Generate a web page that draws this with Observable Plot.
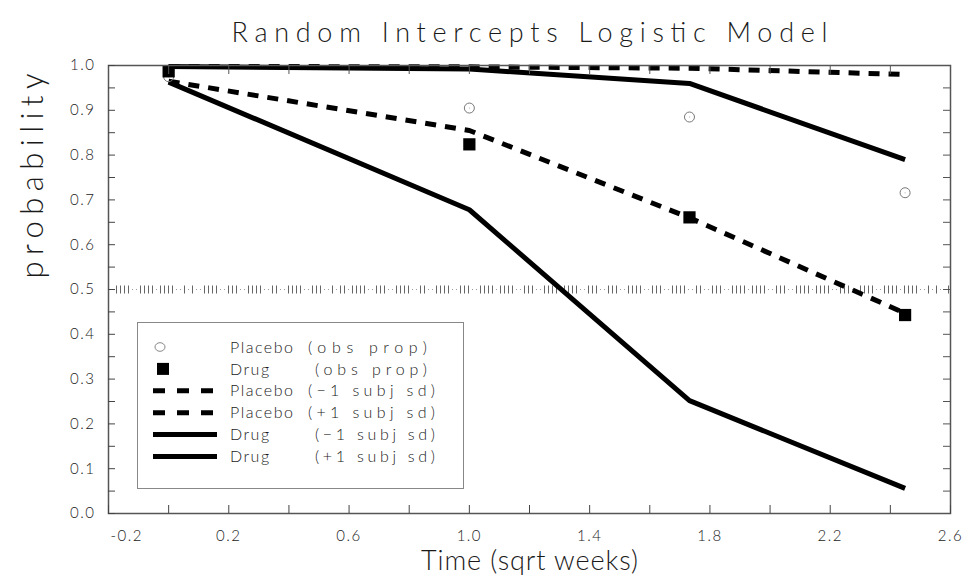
<!DOCTYPE html>
<html><head><meta charset="utf-8">
<script src="https://cdn.jsdelivr.net/npm/d3@7"></script>
<script src="https://cdn.jsdelivr.net/npm/@observablehq/plot@0.6"></script>
<style>
body{margin:0;background:#fff;}
#chart{width:966px;height:584px;}
</style></head><body><div id="chart"></div>
<script>
// ---- data ----
const times = [0, 1, 1.732, 2.449];
const placeboObs = [0.975, 0.905, 0.885, 0.716];
const drugObs = [0.987, 0.824, 0.661, 0.443];
const placeboLow = [0.965, 0.855, 0.660, 0.447];
const placeboHigh = [0.998, 0.997, 0.994, 0.980];
const drugLow = [0.963, 0.678, 0.252, 0.056];
const drugHigh = [0.998, 0.992, 0.960, 0.790];
const refLevel = [0.5];
const xTickMarks = [-0.2, 0, 0.2, 0.4, 0.6, 0.8, 1.0, 1.2, 1.4, 1.6, 1.8, 2.0, 2.2, 2.4, 2.6];
const xTickLabels = [-0.2, 0.2, 0.6, 1.0, 1.4, 1.8, 2.2, 2.6];
const yTickMarks = [0, 0.05, 0.1, 0.15, 0.2, 0.25, 0.3, 0.35, 0.4, 0.45, 0.5, 0.55, 0.6, 0.65, 0.7, 0.75, 0.8, 0.85, 0.9, 0.95, 1.0];
const yTickLabels = [0, 0.1, 0.2, 0.3, 0.4, 0.5, 0.6, 0.7, 0.8, 0.9, 1.0];
const titleText = "Random Intercepts Logistic Model";
const xLabel = "Time (sqrt weeks)";
const yLabel = "probability";
const legendItems = [
  {name: "Placebo", note: "(obs prop)", kind: "circle"},
  {name: "Drug", note: "(obs prop)", kind: "square"},
  {name: "Placebo", note: "(\u22121 subj sd)", kind: "dash"},
  {name: "Placebo", note: "(+1 subj sd)", kind: "dash"},
  {name: "Drug", note: "(\u22121 subj sd)", kind: "solid"},
  {name: "Drug", note: "(+1 subj sd)", kind: "solid"}
];

const rows = (vals) => times.map((t, i) => ({t, p: vals[i]}));

// pattern of the reference line at 0.5 (I = tick, . = gap)
const refPattern = "..IIII..IIII.IIII..I.I..IIII..III..IIII..II..IIII..III..I.II.IIII..III..IIII..II..IIII..III..IIII.IIII..III..IIII.IIII..III..III..IIII..III..IIII..II..III..IIII.IIII..III..IIII.IIII..III";
function dashFromPattern(s) {
  const arr = [0, 0];
  for (const c of s) {
    if (c === "I") { arr.push(1, 3); }
    else { arr[arr.length - 1] += 4; }
  }
  return arr.join(",");
}

const FONT = "Lato, 'DejaVu Sans', sans-serif";
const INK = "#1a1a1a";

const chart = Plot.plot({
  width: 966, height: 584,
  marginLeft: 108, marginRight: 16, marginTop: 65, marginBottom: 71,
  x: {domain: [-0.2, 2.6]},
  y: {domain: [0, 1]},
  style: {fontFamily: FONT, fontSize: "15px", color: INK, background: "#fff", fontWeight: 300},
  marks: [
    Plot.ruleY(refLevel, {stroke: "#999", strokeDasharray: "1,3"}),
    Plot.ruleY(refLevel, {stroke: "#666", strokeWidth: 8, strokeDasharray: dashFromPattern(refPattern)}),
    Plot.line(rows(placeboLow), {x: "t", y: "p", stroke: "#000", strokeWidth: 5, strokeDasharray: "11,9", strokeLinecap: "butt"}),
    Plot.line(rows(placeboHigh), {x: "t", y: "p", stroke: "#000", strokeWidth: 5, strokeDasharray: "11,9", strokeLinecap: "butt"}),
    Plot.line(rows(drugLow), {x: "t", y: "p", stroke: "#000", strokeWidth: 5, strokeLinecap: "butt"}),
    Plot.line(rows(drugHigh), {x: "t", y: "p", stroke: "#000", strokeWidth: 5, strokeLinecap: "butt"}),
    Plot.dot(rows(placeboObs), {x: "t", y: "p", r: 5, stroke: "#777", strokeWidth: 1, fill: "none"}),
    Plot.dot(rows(placeboObs), {x: "t", y: "p", r: 0.5, fill: "#999"}),
    Plot.dot(rows(drugObs), {x: "t", y: "p", r: 6.9, symbol: "square", fill: "#000"}),
    Plot.frame({stroke: "#555", strokeWidth: 1.5}),
    // inward tick marks on all four sides
    Plot.axisX(xTickMarks, {anchor: "bottom", tickSize: -8, tickFormat: () => "", label: null, stroke: "#444"}),
    Plot.axisX(xTickMarks, {anchor: "top", tickSize: -8, tickFormat: () => "", label: null, stroke: "#555"}),
    Plot.axisY(yTickMarks, {anchor: "left", tickSize: -7, tickFormat: () => "", label: null, stroke: "#444"}),
    Plot.axisY(yTickMarks, {anchor: "right", tickSize: -8, tickFormat: () => "", label: null, stroke: "#555"}),
    // tick labels
    Plot.axisX(xTickLabels.slice(0, 1), {anchor: "bottom", tickSize: 0, tickPadding: 17, textAnchor: "start", dx: 2, tickFormat: d => "-" + Math.abs(d).toFixed(1), label: null, fontSize: 15}),
    Plot.axisX(xTickLabels.slice(1), {anchor: "bottom", tickSize: 0, tickPadding: 17, tickFormat: d => d.toFixed(1), label: null, fontSize: 15}),
    Plot.axisY(yTickLabels, {anchor: "left", tickSize: 0, tickPadding: 13, tickFormat: d => d.toFixed(1), label: null, fontSize: 15}),
    // titles
    Plot.text([titleText], {frameAnchor: "top", dy: -43, fontSize: 27, fill: INK}),
    Plot.text([xLabel], {frameAnchor: "bottom", dy: 56, fontSize: 27, fill: INK}),
    Plot.text([yLabel], {frameAnchor: "left", dx: -75, dy: -11, rotate: -90, fontSize: 31, fill: INK})
  ]
});

const svg = d3.select(chart);
// drop the empty label texts of the tick-only axes
svg.selectAll("text").filter(function() { return this.textContent === ""; }).remove();
svg.selectAll("text").each(function() {
  const t = this.textContent;
  if (t === titleText) { d3.select(this).attr("textLength", 596).attr("lengthAdjust", "spacing"); }
  if (t === xLabel) { d3.select(this).attr("textLength", 217).attr("lengthAdjust", "spacing"); }
  if (t === yLabel) { d3.select(this).attr("textLength", 205).attr("lengthAdjust", "spacing"); }
});
svg.selectAll("g[aria-label='y-axis tick label'] text, g[aria-label='x-axis tick label'] text").attr("letter-spacing", 1.5);

// legend
const lg = svg.append("g").attr("font-family", FONT).attr("font-size", 16).attr("font-weight", 300)
  .attr("fill", INK).attr("text-anchor", "start");
lg.append("rect").attr("x", 137.5).attr("y", 322.5).attr("width", 326).attr("height", 166)
  .attr("fill", "#fff").attr("stroke", "#888").attr("stroke-width", 1);
legendItems.forEach((it, i) => {
  const cy = 347 + i * 21.9;
  if (it.kind === "circle") {
    lg.append("ellipse").attr("cx", 160).attr("cy", cy).attr("rx", 5).attr("ry", 4.3).attr("fill", "none").attr("stroke", "#888");
  } else if (it.kind === "square") {
    lg.append("rect").attr("x", 157).attr("y", cy - 6).attr("width", 12).attr("height", 12).attr("fill", "#000");
  } else {
    lg.append("line").attr("x1", 153).attr("x2", it.kind === "dash" ? 213 : 217).attr("y1", cy).attr("y2", cy)
      .attr("stroke", "#000").attr("stroke-width", 5)
      .attr("stroke-dasharray", it.kind === "dash" ? "12,12" : null);
  }
  const isDrug = it.name === "Drug";
  const isObs = it.kind === "circle" || it.kind === "square";
  lg.append("text").attr("x", 230).attr("y", cy).attr("dy", "0.35em").attr("letter-spacing", 1.5).text(it.name);
  lg.append("text").attr("x", isDrug ? 315 : 308).attr("y", cy).attr("dy", "0.35em")
    .attr("textLength", (isObs ? 119 : 127) - (isDrug ? 7 : 0)).attr("lengthAdjust", "spacing").text(it.note);
});

document.getElementById("chart").appendChild(chart);
</script>
</body></html>
